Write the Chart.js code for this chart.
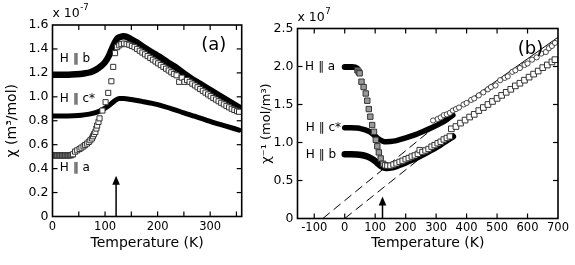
<!DOCTYPE html>
<html><head><meta charset="utf-8">
<script src="https://cdn.jsdelivr.net/npm/chart.js@4/dist/chart.umd.min.js"></script>
<style>
html,body{margin:0;padding:0;background:#fff;}
#wrap{position:relative;width:575px;height:265px;overflow:hidden;background:#fff;}
#ca{position:absolute;left:0;top:0;width:250px;height:265px;}
#cb{position:absolute;left:250px;top:0;width:325px;height:265px;}
</style></head><body>
<div id="wrap"><canvas id="ca" width="250" height="265"></canvas><canvas id="cb" width="325" height="265"></canvas></div>
<script>
// ---------- Panel (a): chi vs T (x 1e-7 m^3/mol) ----------
const aXTicks = [0,50,100,150,200,250,300,350];
const aXLabels = ['0','','100','','200','','300',''];
const aYTicks = [0,0.2,0.4,0.6,0.8,1.0,1.2,1.4,1.6];
const aYLabels = ['0','0.2','0.4','0.6','0.8','1.0','1.2','1.4','1.6'];

// H || b (dense filled points)
const aB_T = [0,15,30,45,60,72,82,92,100,107,112,116,120,124,129,135,142,150,160,175,190,205,220,235,250,265,280,295,310,325,340,355];
const aB_V = [1.185,1.185,1.185,1.188,1.195,1.205,1.225,1.255,1.29,1.34,1.39,1.43,1.465,1.49,1.50,1.505,1.50,1.48,1.455,1.41,1.37,1.33,1.285,1.245,1.195,1.15,1.11,1.07,1.03,0.99,0.95,0.91];
// H || c* (dense filled points)
const aC_T = [0,20,40,55,70,82,92,100,108,115,121,127,135,150,170,190,210,230,250,270,290,310,330,355];
const aC_V = [0.84,0.84,0.842,0.846,0.855,0.868,0.885,0.905,0.93,0.955,0.975,0.985,0.985,0.977,0.962,0.945,0.922,0.896,0.866,0.838,0.81,0.78,0.755,0.722];
// H || a (open squares)
const aA_T = [0,3,6,9,12,15,18,21,24,27,30,33,36,39,43,47,51.5,55,59,62,65.5,69,72,75,77,79,81.5,83.5,85,87.5,89.5,95,101,106,112,115.5,119,123,127,131,136,141,146,151,156,161,166,171,176,181,186,191,196,201,206,211,216,221,226,231,236,241,246,251,256,261,266,271,276,281,286,291,296,301,306,311,316,321,326,331,336,341,346,351,355];
const aA_V = [0.51,0.51,0.51,0.51,0.51,0.51,0.51,0.51,0.51,0.51,0.51,0.51,0.512,0.52,0.542,0.553,0.564,0.575,0.586,0.597,0.609,0.623,0.637,0.652,0.67,0.688,0.706,0.735,0.76,0.79,0.82,0.885,0.955,1.033,1.13,1.25,1.365,1.415,1.43,1.44,1.445,1.44,1.435,1.425,1.415,1.40,1.385,1.37,1.355,1.34,1.325,1.31,1.295,1.28,1.265,1.25,1.235,1.22,1.205,1.19,1.18,1.125,1.16,1.125,1.14,1.125,1.11,1.095,1.08,1.065,1.05,1.035,1.02,1.005,0.99,0.977,0.963,0.95,0.937,0.924,0.912,0.90,0.89,0.88,0.875];
const aArrowT = [121];
const aArrowTip = [0.34];

// ---------- Panel (b): 1/chi vs T (x 1e7 mol/m^3) ----------
const bXTicks = [-100,0,100,200,300,400,500,600,700];
const bXLabels = ['-100','0','100','200','300','400','500','600','700'];
const bYTicks = [0,0.5,1.0,1.5,2.0,2.5];
const bYLabels = ['0','0.5','1.0','1.5','2.0','2.5'];

// H || a : dense low-T plateau and open squares
const bAband_T = [0,12,24,34,40];
const bAband_V = [1.995,1.995,1.995,1.99,1.975];
const bA_T = [42,46,49,55,62,69,74,79,84,90,96,102,107,112,118,126,133,140,150,160,170,180,190,200,210,220,230,240,246,255,265,275,285,295,305,315,325,335,345];
const bA_V = [1.95,1.93,1.91,1.80,1.73,1.645,1.55,1.44,1.34,1.23,1.14,1.035,0.95,0.87,0.79,0.72,0.70,0.695,0.695,0.71,0.725,0.745,0.76,0.78,0.795,0.815,0.83,0.85,0.90,0.875,0.895,0.915,0.945,0.965,0.99,1.01,1.04,1.06,1.08];
// H || b (dense)
const bB_T = [0,20,40,55,70,82,95,106,116,124,132,140,152,170,190,210,235,260,285,311,335,355];
const bB_V = [0.845,0.845,0.842,0.835,0.82,0.80,0.77,0.735,0.70,0.68,0.668,0.665,0.67,0.69,0.72,0.755,0.80,0.85,0.905,0.965,1.03,1.08];
// H || c* (dense)
const bC_T = [0,20,40,55,68,80,92,104,116,126,136,150,170,200,230,257,285,311,335,355];
const bC_V = [1.195,1.195,1.19,1.18,1.165,1.145,1.11,1.07,1.035,1.015,1.01,1.012,1.025,1.06,1.10,1.145,1.195,1.245,1.30,1.36];
// high-temperature data: open squares and open circles
const bHiSq_T = [350,365,380,395,410,425,440,455,470,485,500,515,530,545,560,575,590,605,620,635,650,665,680,690];
const bHiSq_V = [1.18,1.21,1.255,1.295,1.335,1.37,1.42,1.46,1.50,1.54,1.58,1.62,1.66,1.70,1.745,1.78,1.82,1.86,1.90,1.94,1.985,2.02,2.06,2.09];
const bHiCi_T = [290,305,315,325,335,345,355,365,375,390,400,415,425,440,455,470,480,495,510,525,535,550,560,575,590,600,615,630,645,660,670,680,690];
const bHiCi_V = [1.29,1.31,1.33,1.36,1.37,1.39,1.42,1.44,1.46,1.50,1.52,1.56,1.58,1.62,1.66,1.70,1.73,1.75,1.82,1.85,1.87,1.93,1.95,1.98,2.02,2.04,2.09,2.12,2.17,2.19,2.24,2.27,2.31];
// Curie-Weiss lines
const bFit1_T = [-72,355];  const bFit1_V = [0,1.40];
const bFit2_T = [0,250];    const bFit2_V = [0,0.80];
const bFitHi_T = [330,700]; const bFitHi_V = [1.335,2.385];
const bArrowT = [124];
const bArrowTip = [0.29];

// ---------- helpers ----------
const FONT = "'DejaVu Sans', 'Liberation Sans', sans-serif";
Chart.defaults.font.family = FONT;
Chart.defaults.color = '#000';
const pts = (T,V) => T.map((t,i)=>({x:t,y:V[i]}));
const band = (T,V,w) => ({type:'line', data:pts(T,V), borderColor:'#000', borderWidth:w, pointRadius:0,
  cubicInterpolationMode:'monotone', borderCapStyle:'round', borderJoinStyle:'round', fill:false});
const squares = (T,V,r,fillFn) => ({type:'scatter', data:pts(T,V), pointStyle:'rect', pointRadius:r,
  borderColor:'#333', borderWidth:1, backgroundColor: fillFn || '#fff'});
const circles = (T,V) => ({type:'scatter', data:pts(T,V), pointStyle:'circle', pointRadius:2.6,
  borderColor:'#333', borderWidth:0.9, backgroundColor:'#fff'});
const fitLine = (T,V,dash) => ({type:'line', data:pts(T,V), borderColor:'#000', borderWidth:1,
  borderDash:dash, pointRadius:0, fill:false});

function decorPlugin(cfg){
  return {
    id:'decor',
    afterDraw(chart){
      const {ctx, chartArea:a, scales:{x,y}} = chart;
      ctx.save();
      ctx.strokeStyle='#000'; ctx.fillStyle='#000';
      const ln=(x1,y1,x2,y2)=>{ctx.beginPath();ctx.moveTo(x1,y1);ctx.lineTo(x2,y2);ctx.stroke();};
      ctx.lineWidth=1.2;
      const L=5;
      x.ticks.forEach(t=>{const px=x.getPixelForValue(t.value); if(px<=a.left+1||px>=a.right-1) return;
        ln(px,a.bottom,px,a.bottom-L); ln(px,a.top,px,a.top+L);});
      y.ticks.forEach(t=>{const py=y.getPixelForValue(t.value); if(py<=a.top+1||py>=a.bottom-1) return;
        ln(a.left,py,a.left+L,py); ln(a.right,py,a.right-L,py);});
      ctx.lineWidth=1.6;
      ctx.strokeRect(a.left,a.top,a.right-a.left,a.bottom-a.top);
      // arrow
      const ax=x.getPixelForValue(cfg.arrowT), ay=y.getPixelForValue(cfg.arrowTip);
      ctx.lineWidth=1.5; ln(ax,a.bottom,ax,ay+6);
      ctx.beginPath(); ctx.moveTo(ax,ay); ctx.lineTo(ax-3.8,ay+9); ctx.lineTo(ax+3.8,ay+9); ctx.closePath(); ctx.fill();
      // labels
      ctx.textBaseline='middle'; ctx.textAlign='left';
      ctx.font='12px '+FONT;
      cfg.labels.forEach(l=>{ctx.fillText(l.t, x.getPixelForValue(l.x), y.getPixelForValue(l.y));});
      ctx.font='18px '+FONT; ctx.textAlign='center';
      ctx.fillText(cfg.panel, x.getPixelForValue(cfg.panelX), y.getPixelForValue(cfg.panelY));
      // multiplier
      ctx.textAlign='left'; ctx.textBaseline='alphabetic';
      ctx.font='12.5px '+FONT;
      ctx.fillText('x 10', a.left, cfg.multY);
      const w=ctx.measureText('x 10').width;
      ctx.font='8.5px '+FONT;
      ctx.fillText(cfg.exp, a.left+w+0.5, cfg.multY-6.5);
      ctx.restore();
    }
  };
}

function scales(xmin,xmax,xT,xL,ymin,ymax,yT,yL,xH,yW,xFont,yFont,xPad,yTitle,yTitlePad,xTitlePad,yTitleSize){
  return {
    x:{type:'linear',min:xmin,max:xmax,
       afterBuildTicks:s=>{s.ticks=xT.map(v=>({value:v}));},
       afterFit:s=>{s.height=xH;},
       grid:{display:false,drawTicks:false}, border:{display:false},
       ticks:{callback:(v,i)=>xL[i], padding:xPad, font:{size:xFont}, color:'#000', maxRotation:0, autoSkip:false},
       title:{display:true,text:'Temperature (K)',font:{size:14},color:'#000',padding:{top:0,bottom:xTitlePad}}},
    y:{type:'linear',min:ymin,max:ymax,
       afterBuildTicks:s=>{s.ticks=yT.map(v=>({value:v}));},
       afterFit:s=>{s.width=yW;},
       grid:{display:false,drawTicks:false}, border:{display:false},
       ticks:{callback:(v,i)=>yL[i], padding:4, font:{size:yFont}, color:'#000', autoSkip:false},
       title:{display:true,text:yTitle,font:{size:yTitleSize},color:'#000',padding:{top:yTitlePad,bottom:0}}}
  };
}

const common = {responsive:false, animation:false, devicePixelRatio:1,
  plugins:{legend:{display:false}, tooltip:{enabled:false}}};

new Chart(document.getElementById('ca'), {
  data:{datasets:[
    squares(aA_T,aA_V,3.6,(c)=> (c.raw && c.raw.x<38) ? '#8a8a8a' : '#fff'),
    band(aB_T,aB_V,6.5),
    band(aC_T,aC_V,5)
  ]},
  options:{...common,
    layout:{padding:{left:0,right:8.3,top:25,bottom:0}},
    scales:scales(0,360,aXTicks,aXLabels,0,1.6,aYTicks,aYLabels,48.5,52.5,11.5,12.5,4,'\u03C7 (m\u00B3/mol)',4,13.5,14)
  },
  plugins:[decorPlugin({arrowT:aArrowT[0],arrowTip:aArrowTip[0],panel:'(a)',panelX:307,panelY:1.43,exp:'-7',multY:16.7,
    labels:[{t:'H \u2225 b',x:14,y:1.32},{t:'H \u2225 c*',x:14,y:0.98},{t:'H \u2225 a',x:14,y:0.41}]})]
});

new Chart(document.getElementById('cb'), {
  data:{datasets:[
    squares(bA_T,bA_V,3.8,(c)=> (c.raw && c.raw.x<130) ? '#9a9a9a' : '#fff'),
    squares(bHiSq_T,bHiSq_V,4),
    circles(bHiCi_T,bHiCi_V),
    band(bAband_T,bAband_V,6),
    band(bB_T,bB_V,6.5),
    band(bC_T,bC_V,5.5),
    fitLine(bFit1_T,bFit1_V,[9,5]),
    fitLine(bFit2_T,bFit2_V,[9,5]),
    fitLine(bFitHi_T,bFitHi_V,[])
  ]},
  options:{...common,
    layout:{padding:{left:0,right:17,top:28.5,bottom:0}},
    scales:scales(-155,700,bXTicks,bXLabels,0,2.5,bYTicks,bYLabels,46.5,47.5,11.5,12.5,3,'\u03C7\u207B\u00B9 (mol/m\u00B3)',9,13,13)
  },
  plugins:[decorPlugin({arrowT:bArrowT[0],arrowTip:bArrowTip[0],panel:'(b)',panelX:610,panelY:2.22,exp:'7',multY:20.7,
    labels:[{t:'H \u2225 a',x:-130,y:1.99},{t:'H \u2225 c*',x:-128,y:1.197},{t:'H \u2225 b',x:-128,y:0.842}]})]
});
</script>
</body></html>
